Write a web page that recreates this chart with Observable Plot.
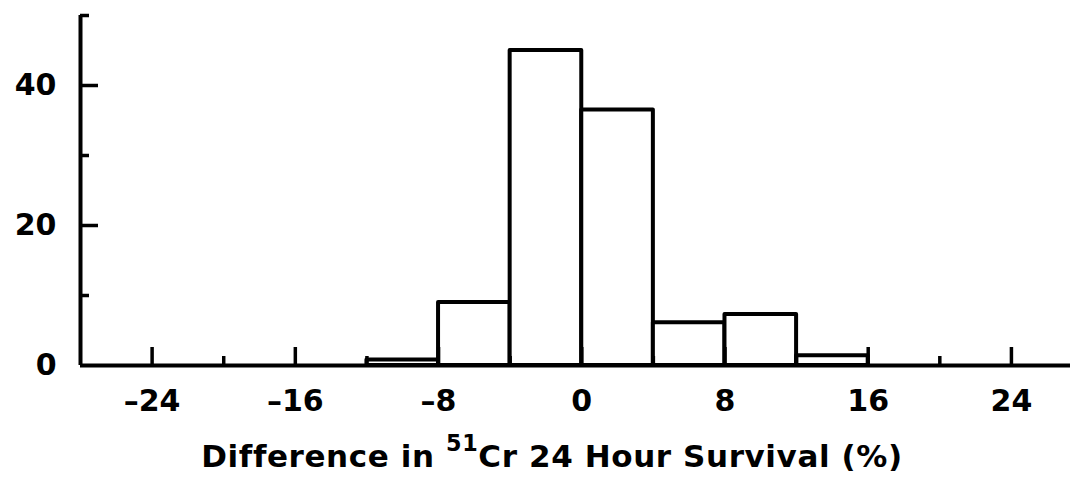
<!DOCTYPE html>
<html><head><meta charset="utf-8">
<script src="https://cdn.jsdelivr.net/npm/d3@7"></script>
<script src="https://cdn.jsdelivr.net/npm/@observablehq/plot@0.6"></script>
<style>
body{margin:0;background:#fff;}
#wrap{width:1070px;height:477px;overflow:hidden;background:#fff;}
#title{font-family:"DejaVu Sans";font-weight:bold;font-size:31px;line-height:36px;letter-spacing:0.6px;padding-top:18px;padding-left:34px;width:1036px;text-align:center;color:#000;white-space:nowrap;}
#title sup{font-size:0.72em;line-height:0;vertical-align:16px;}
</style>
</head><body>
<div id="wrap"><div id="chart"></div><div id="title">Difference in <sup>51</sup>Cr 24 Hour Survival (%)</div></div>
<script>
// Histogram bins (percentage difference) and counts
const binStart = [-12, -8, -4, 0, 4, 8, 12];
const binEnd   = [-8, -4, 0, 4, 8, 12, 16];
const counts   = [0.8, 9, 45, 36.5, 6.1, 7.3, 1.4];

// Axis ticks and labels
const xMajorTicks = [-24, -16, -8, 0, 8, 16, 24];
const xMinorTicks = [-20, -12, -4, 4, 12, 20];
const xTickLabels = [-24, -16, -8, 0, 8, 16, 24];
const yMajorTicks = [20, 40];
const yMinorTicks = [10, 30, 50];
const yTickLabels = [0, 20, 40];
const xDomain = [-28, 27.3];
const yDomain = [0, 50];

const bins = binStart.map((s, i) => ({x1: s, x2: binEnd[i], count: counts[i]}));
const fmt = d => d < 0 ? "\u2013" + Math.abs(d) : String(d);

const chart = Plot.plot({
  width: 1070,
  height: 420,
  marginLeft: 80,
  marginRight: 0,
  marginTop: 15,
  marginBottom: 55,
  style: {fontFamily: "DejaVu Sans", fontSize: "30px", fontWeight: "bold", color: "black", background: "white"},
  x: {domain: xDomain},
  y: {domain: yDomain},
  marks: [
    Plot.rectY(bins, {x1: "x1", x2: "x2", y: "count", fill: "white", stroke: "black", strokeWidth: 4, strokeLinejoin: "round"}),
    Plot.ruleY([0], {stroke: "black", strokeWidth: 4}),
    Plot.ruleX([xDomain[0]], {y1: yDomain[0], y2: yDomain[1], stroke: "black", strokeWidth: 4}),
    Plot.axisX(xMajorTicks, {tickSize: -18, fill: "none", strokeWidth: 3.5, label: null}),
    Plot.axisX(xMinorTicks, {tickSize: -9, fill: "none", strokeWidth: 3.5, label: null}),
    Plot.axisX(xTickLabels, {tickSize: 0, tickPadding: 24, tickFormat: fmt, label: null}),
    Plot.axisY(yMajorTicks, {tickSize: -18, fill: "none", strokeWidth: 3.5, label: null}),
    Plot.axisY(yMinorTicks, {tickSize: -9, fill: "none", strokeWidth: 3.5, label: null}),
    Plot.axisY(yTickLabels, {tickSize: 0, tickPadding: 24, label: null})
  ]
});
document.getElementById("chart").appendChild(chart);
</script>
</body></html>
